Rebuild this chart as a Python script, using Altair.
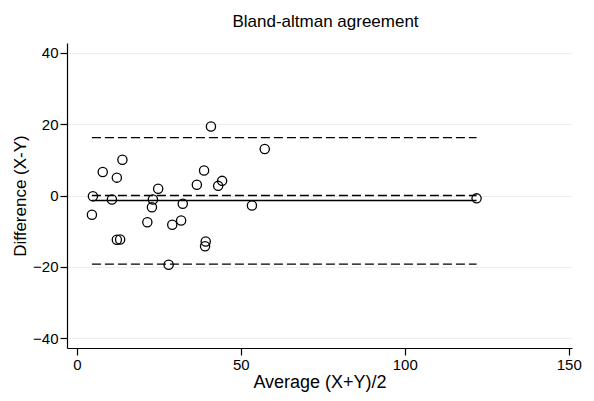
import altair as alt
import pandas as pd

# Data
avg = [4.9, 4.6, 7.9, 10.7, 12.2, 13.9, 12.2, 13.2, 21.5, 23.2, 22.9, 24.8, 28.0,
       29.1, 31.8, 32.3, 36.6, 38.8, 39.3, 39.1, 40.9, 43.1, 44.3, 53.4, 57.3, 121.9]
diff = [-0.2, -5.4, 6.6, -1.1, 5.0, 10.0, -12.4, -12.3, -7.5, -1.1, -3.3, 1.9, -19.4,
        -8.2, -7.0, -2.3, 3.0, 7.0, -12.9, -14.2, 19.3, 2.7, 4.1, -2.8, 13.0, -0.8]

line_names = ["upper", "zero", "mean", "lower"]
line_values = [16.2, 0.0, -1.4, -19.2]
line_dashed = [True, True, False, True]

x_ticks = [0, 50, 100, 150]
y_ticks = [-40, -20, 0, 20, 40]

pts = pd.DataFrame({"avg": avg, "diff": diff})
lines = pd.DataFrame({
    "name": line_names,
    "y": line_values,
    "x": [min(avg)] * len(line_names),
    "x2": [max(avg)] * len(line_names),
    "dashed": line_dashed,
})

FONT = "Liberation Sans"

xscale = alt.Scale(domain=[-3, 151], nice=False, zero=False)
yscale = alt.Scale(domain=[-42.7, 42.7], nice=False, zero=False)

xaxis = alt.Axis(values=x_ticks, title="Average (X+Y)/2", grid=False,
                 tickSize=7, labelPadding=2, titlePadding=1)
yaxis = alt.Axis(values=y_ticks, title="Difference (X-Y)", grid=True,
                 gridColor="#eeeeee", gridWidth=1,
                 tickSize=7, labelPadding=2, titlePadding=3)

dashed = alt.Chart(lines[lines["dashed"]]).mark_rule(
    color="black", strokeWidth=1.3, strokeDash=[9, 4]
).encode(
    x=alt.X("x:Q", scale=xscale, axis=xaxis),
    x2="x2:Q",
    y=alt.Y("y:Q", scale=yscale, axis=yaxis),
)

solid = alt.Chart(lines[~lines["dashed"]]).mark_rule(
    color="black", strokeWidth=1.5
).encode(
    x=alt.X("x:Q", scale=xscale),
    x2="x2:Q",
    y=alt.Y("y:Q", scale=yscale),
)

points = alt.Chart(pts).mark_point(
    shape="circle", filled=False, color="black", size=85, strokeWidth=1.3, opacity=1
).encode(
    x=alt.X("avg:Q", scale=xscale),
    y=alt.Y("diff:Q", scale=yscale),
)

chart = alt.layer(dashed, solid, points).properties(
    width=505,
    height=305,
    background="white",
    title=alt.TitleParams("Bland-altman agreement"),
    autosize=alt.AutoSizeParams(type="none"),
    padding={"left": 59, "top": 35, "right": 14, "bottom": 50},
).configure_view(
    stroke=None
).configure_title(
    font=FONT, fontSize=17, fontWeight="normal", color="black",
    anchor="middle", offset=12, dx=6,
).configure_axis(
    domainColor="black", tickColor="black", domainWidth=1.2, tickWidth=1.2,
    labelFont=FONT, titleFont=FONT, labelFontSize=15, titleFontSize=17,
    labelColor="black", titleColor="black", titleFontWeight="normal",
).configure_axisX(
    titleFontSize=18,
).configure_axisY(
    labelAngle=0,
)

chart.save("out.html", embed_options={"renderer": "svg", "actions": False})
